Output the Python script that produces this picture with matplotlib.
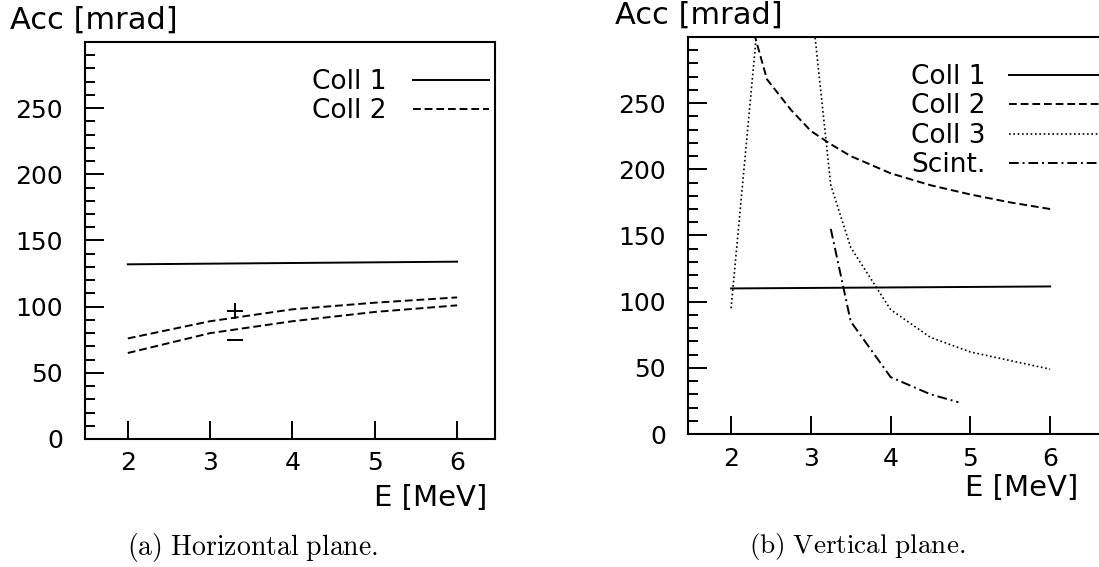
import matplotlib
matplotlib.use("Agg")
import matplotlib.pyplot as plt
from matplotlib.ticker import MultipleLocator

plt.rcParams['font.family'] = ['DejaVu Sans']
plt.rcParams['mathtext.fontset'] = 'cm'

# horizontal plane
e_h = [2, 3, 4, 5, 6]
coll1_h = [132, 132.5, 133, 133.5, 134]
coll2_h_plus = [76, 89, 98, 103, 107]
coll2_h_minus = [65, 80, 89, 96, 101]
sign_e = [3.3, 3.3]
sign_acc = [97, 75]

# vertical plane
e_v1 = [2, 6]
coll1_v = [110, 111.5]
e_v2 = [2.25, 2.45, 2.75, 3.0, 3.25, 3.5, 4.0, 4.5, 5.0, 5.5, 6.0]
coll2_v = [311, 268, 245, 229, 219, 210, 197, 188, 181, 175, 170]
e_v3 = [2.0, 2.5, 3.0, 3.25, 3.5, 4.0, 4.5, 5.0, 6.0]
coll3_v = [95, 420, 330, 188, 141, 94, 73, 62, 49]
e_sc = [3.25, 3.5, 4.0, 4.5, 4.85]
scint_v = [155, 85, 43, 30, 24]

x_ticks = [2, 3, 4, 5, 6]
y_ticks = [0, 50, 100, 150, 200, 250]

dash2 = (0, (4, 2))
dot3 = (0, (1, 1.6))
dashdot = (0, (5, 2, 1, 2))

W, H = 1099, 567
fig = plt.figure(figsize=(W / 100, H / 100), dpi=100)


def px_axes(left, right, top, bottom):
    return fig.add_axes([left / W, 1 - bottom / H, (right - left) / W, (bottom - top) / H])


def style(ax, xlim):
    ax.set_xlim(*xlim)
    ax.set_ylim(0, 300)
    ax.set_xticks(x_ticks)
    ax.set_yticks(y_ticks)
    ax.yaxis.set_minor_locator(MultipleLocator(10))
    ax.tick_params(axis='y', which='major', direction='in', length=14, width=1.4,
                   labelsize=18, pad=16)
    ax.tick_params(axis='y', which='minor', direction='in', length=7, width=1.4)
    ax.tick_params(axis='x', which='major', direction='in', length=13, width=1.4,
                   labelsize=18, pad=9)
    for s in ax.spines.values():
        s.set_linewidth(1.5)


ax1 = px_axes(85, 495, 42, 439)
style(ax1, (1.48, 6.46))
ax1.plot(e_h, coll1_h, color='black', lw=1.4, label='Coll 1')
ax1.plot(e_h, coll2_h_plus, color='black', lw=1.4, ls=dash2, label='Coll 2')
ax1.plot(e_h, coll2_h_minus, color='black', lw=1.4, ls=dash2)
ax1.plot(sign_e[:1], sign_acc[:1], marker='+', ms=12, mew=1.4, color='black', ls='none')
ax1.plot(sign_e[1:], sign_acc[1:], marker='_', ms=12, mew=1.4, color='black', ls='none')
ax1.legend(loc='upper left', bbox_to_anchor=(312 / W, 1 - 69 / H),
           bbox_transform=fig.transFigure, frameon=False, markerfirst=False,
           fontsize=19, handlelength=2.9, handletextpad=1.0, labelspacing=0.13,
           borderpad=0, borderaxespad=0)

ax2 = px_axes(688, 1102, 37, 434)
style(ax2, (1.46, 6.65))
ax2.plot(e_v1, coll1_v, color='black', lw=1.4, label='Coll 1')
ax2.plot(e_v2, coll2_v, color='black', lw=1.4, ls=dash2, label='Coll 2')
ax2.plot(e_v3, coll3_v, color='black', lw=1.2, ls=dot3, label='Coll 3')
ax2.plot(e_sc, scint_v, color='black', lw=1.4, ls=dashdot, label='Scint.')
ax2.legend(loc='upper left', bbox_to_anchor=(911 / W, 1 - 64 / H),
           bbox_transform=fig.transFigure, frameon=False, markerfirst=False,
           fontsize=19, handlelength=3.4, handletextpad=0.9, labelspacing=0.13,
           borderpad=0, borderaxespad=0)

# axis titles, HIGZ-like placement
fig.text(10 / W, 1 - 20 / H, 'Acc [mrad]', fontsize=22, ha='left', va='center')
fig.text(615 / W, 1 - 15 / H, 'Acc [mrad]', fontsize=22, ha='left', va='center')
fig.text(487 / W, 1 - 498 / H, 'E [MeV]', fontsize=21, ha='right', va='center')
fig.text(1078 / W, 1 - 488 / H, 'E [MeV]', fontsize=21, ha='right', va='center')

# captions
fig.text(253 / W, 1 - 548 / H, r'$\mathrm{(a)\ Horizontal\ plane.}$', fontsize=20,
         ha='center', va='center')
fig.text(857 / W, 1 - 547 / H, r'$\mathrm{(b)\ Vertical\ plane.}$', fontsize=19.5,
         ha='center', va='center')

fig.savefig('out.png', dpi=100)
